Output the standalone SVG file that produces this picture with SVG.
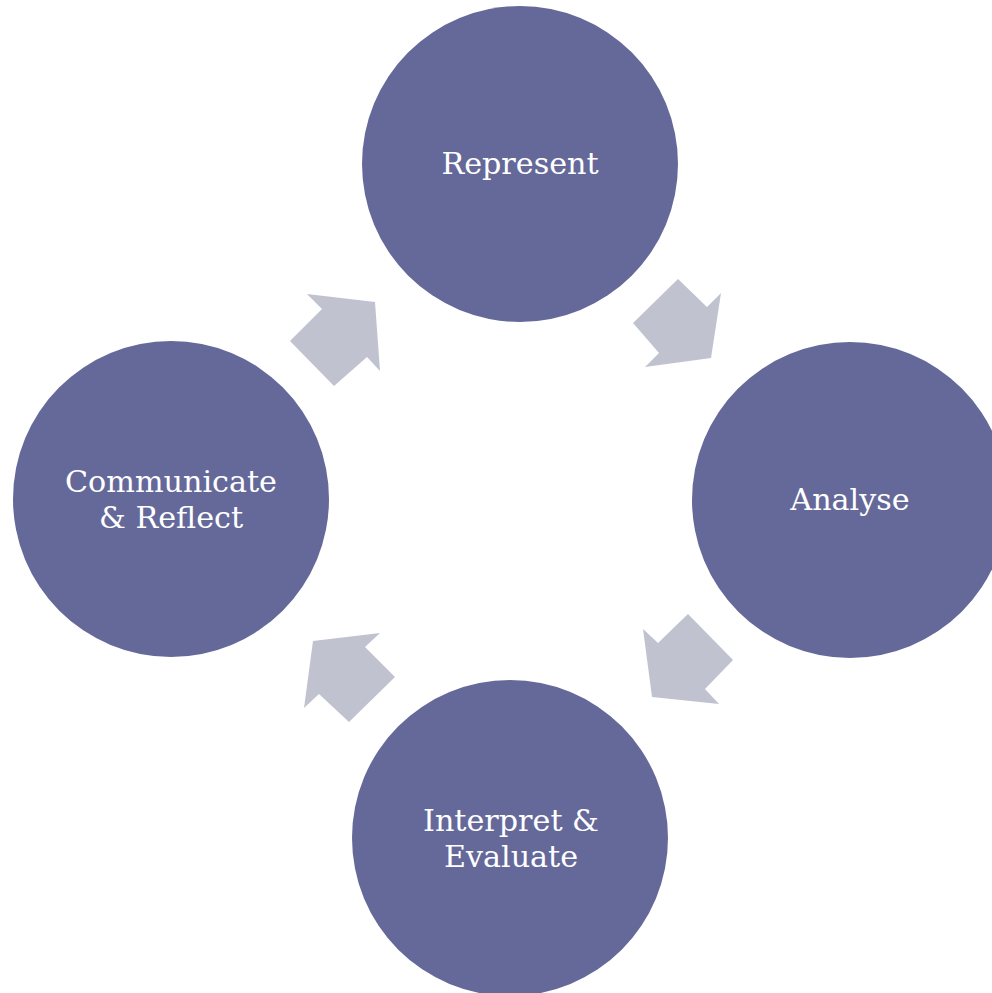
<svg xmlns="http://www.w3.org/2000/svg" width="992" height="993" viewBox="0 0 992 993">
<style>
.node{fill:#65699A}
.lbl{font-family:"DejaVu Serif","Liberation Serif",serif;font-size:30.2px;fill:#ffffff;text-anchor:middle}
.arr{fill:#C0C2D0}
</style>
<rect width="992" height="993" fill="#ffffff"/>
<g id="connectors">
<polygon class="arr" points="678,279 707,307 721,293 711,358 645,367 659,353 633,323"/>
<polygon class="arr" points="643,629 658,643 688,614 733,660 705,689 719,704 652,697"/>
<polygon class="arr" points="313,641 380,633 365,647 395,677 349,722 319,694 304,708"/>
<polygon class="arr" points="307,294 375,302 380,371 367,357 334,386 290,341 322,309"/>
</g>
<g id="represent">
<circle class="node" cx="520" cy="164" r="158"/>
<text class="lbl" x="520" y="174">Represent</text>
</g>
<g id="analyse">
<circle class="node" cx="850" cy="500" r="158"/>
<text class="lbl" x="850" y="510">Analyse</text>
</g>
<g id="interpret">
<circle class="node" cx="510" cy="838" r="158"/>
<text class="lbl" x="511" y="831">Interpret &amp;</text>
<text class="lbl" x="511" y="867">Evaluate</text>
</g>
<g id="communicate">
<circle class="node" cx="171" cy="499" r="158"/>
<text class="lbl" x="171" y="492">Communicate</text>
<text class="lbl" x="171" y="528">&amp; Reflect</text>
</g>
</svg>
